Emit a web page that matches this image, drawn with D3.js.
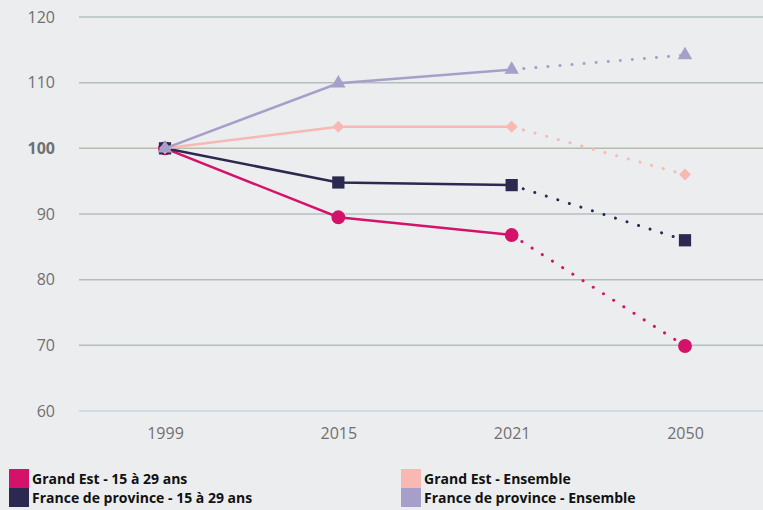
<!DOCTYPE html>
<html>
<head>
<meta charset="utf-8">
<script src="https://cdn.jsdelivr.net/npm/d3@7"></script>
<style>
  body { margin: 0; background: #ecedef; }
  svg { display: block; font-family: 'Open Sans', sans-serif; }
</style>
</head>
<body>
<svg id="canvas" width="763" height="510"></svg>
<script>
let years = ['1999', '2015', '2021', '2050']
let yTicks = [60, 70, 80, 90, 100, 110, 120]

let grandEstJeunes = [100, 89.5, 86.8, 69.9]
let franceJeunes = [100, 94.8, 94.4, 86.0]
let grandEstTotal = [100, 103.3, 103.3, 96.0]
let franceTotal = [100, 109.9, 112.0, 114.2]

let seriesNames = ['Grand Est - 15 à 29 ans', 'France de province - 15 à 29 ans', 'Grand Est - Ensemble', 'France de province - Ensemble']
let seriesColors = ['#d5126a', '#2b2950', '#f8b8b4', '#a59fc9']
let seriesShapes = [d3.symbolCircle, d3.symbolSquare, d3.symbolSquare, d3.symbolTriangle]
let seriesSizes = [150, 150, 72, 90]
let seriesRotate = [0, 0, 45, 0]

let seriesList = [grandEstJeunes, franceJeunes, grandEstTotal, franceTotal]

let canvas = d3.select('#canvas')

let xScale = d3.scalePoint()
  .domain(years)
  .range([165, 685])

let yScale = d3.scaleLinear()
  .domain([60, 120])
  .range([411, 17])

// grid
canvas.append('g')
  .selectAll('line')
  .data(yTicks)
  .enter()
  .append('line')
  .attr('x1', 79)
  .attr('x2', 763)
  .attr('y1', (d) => yScale(d))
  .attr('y2', (d) => yScale(d))
  .attr('stroke', (d) => d === 60 ? '#c9d4e6' : (d === 100 ? '#b7bda9' : '#b3bfbf'))
  .attr('stroke-width', 1.5)

let yAxis = d3.axisLeft(yScale).tickValues(yTicks).tickSize(0).tickPadding(0)
let yAxisG = canvas.append('g')
  .attr('transform', 'translate(55, 0)')
  .call(yAxis)
yAxisG.select('.domain').remove()
yAxisG.selectAll('text')
  .attr('fill', '#707070')
  .style('font-size', '16px')
  .style('font-family', "'Open Sans', sans-serif")
  .style('font-weight', (d) => d === 100 ? 'bold' : 'normal')

let xAxis = d3.axisBottom(xScale).tickSize(0).tickPadding(0)
let xAxisG = canvas.append('g')
  .attr('transform', 'translate(0, 428)')
  .call(xAxis)
xAxisG.select('.domain').remove()
xAxisG.selectAll('text')
  .attr('fill', '#707070')
  .style('font-size', '16px')
  .style('font-family', "'Open Sans', sans-serif")

let solidLine = d3.line()
  .x((d) => xScale(d.year))
  .y((d) => yScale(d.value))

seriesList.forEach((values, i) => {
  let points = values.map((v, j) => ({ year: years[j], value: v }))
  let g = canvas.append('g')

  g.append('path')
    .attr('d', solidLine(points.slice(0, 3)))
    .attr('fill', 'none')
    .attr('stroke', seriesColors[i])
    .attr('stroke-width', 2.5)

  g.append('path')
    .attr('d', solidLine(points.slice(2)))
    .attr('fill', 'none')
    .attr('stroke', seriesColors[i])
    .attr('stroke-width', 3)
    .attr('stroke-linecap', 'round')
    .attr('stroke-dasharray', '0.1 12')

  g.selectAll('.marker')
    .data(points)
    .enter()
    .append('path')
    .attr('class', 'marker')
    .attr('d', d3.symbol().type(seriesShapes[i]).size(seriesSizes[i]))
    .attr('transform', (d) => 'translate(' + xScale(d.year) + ',' + yScale(d.value) + ') rotate(' + seriesRotate[i] + ')')
    .attr('fill', seriesColors[i])
})

// legend
let legendPos = [[9, 469], [9, 488], [401, 469], [401, 488]]
let legend = canvas.append('g')
  .selectAll('g')
  .data(seriesNames)
  .enter()
  .append('g')
  .attr('transform', (d, i) => 'translate(' + legendPos[i][0] + ',' + legendPos[i][1] + ')')

legend.append('rect')
  .attr('width', 20)
  .attr('height', 19)
  .attr('fill', (d, i) => seriesColors[i])

legend.append('text')
  .text((d) => d)
  .attr('x', 23)
  .attr('y', 14.5)
  .attr('fill', '#111')
  .style('font-size', '14px')
  .style('font-weight', 'bold')
</script>
</body>
</html>
